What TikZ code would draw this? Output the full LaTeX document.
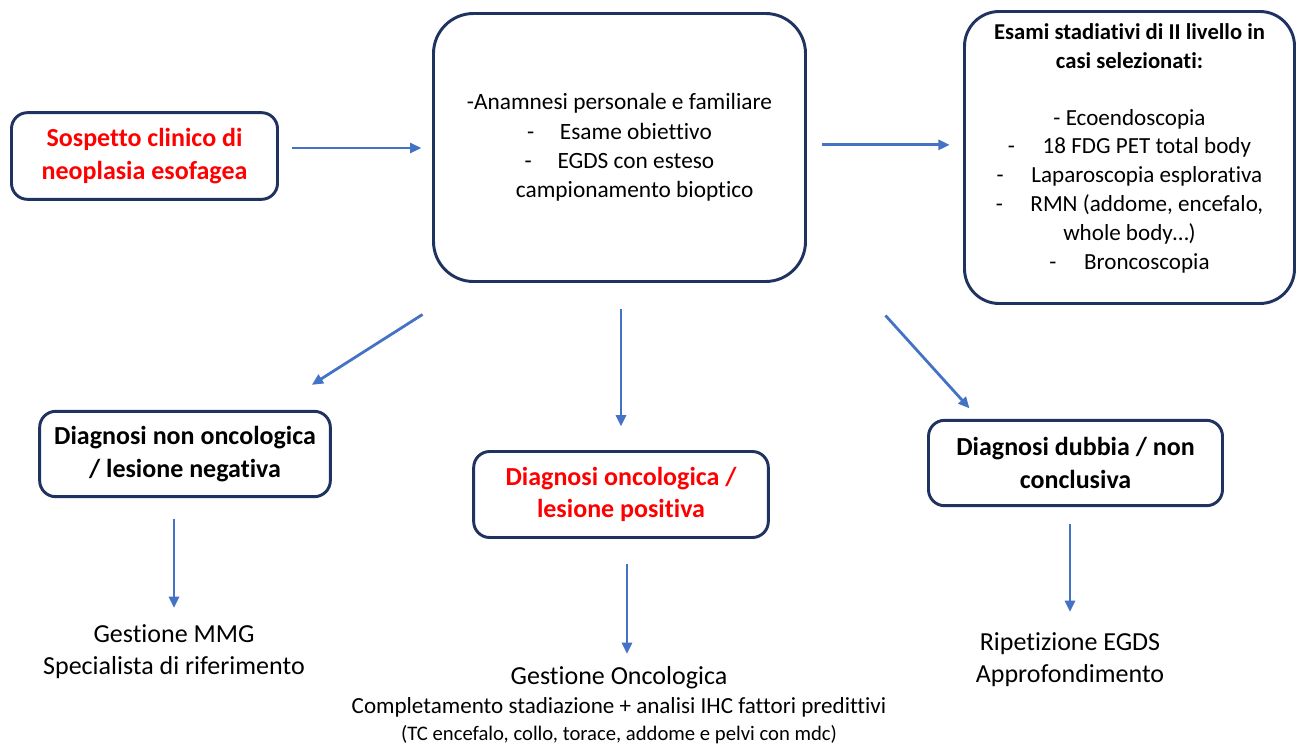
\documentclass[tikz,border=0pt]{standalone}
\usepackage{fontspec}
\setmainfont{Carlito}[RawFeature={-liga;-clig;-calt;-dlig}]
\usetikzlibrary{positioning,arrows.meta}
\definecolor{boxnavy}{RGB}{31,50,96}
\definecolor{arrowblue}{RGB}{68,114,196}
\definecolor{alertred}{RGB}{255,0,0}
\tikzstyle{element} = [rectangle, rounded corners=12pt, draw=boxnavy, line width=2.2pt, align=center, text centered, fill=white, font=\bfseries\fontsize{19.5}{24.5}\selectfont]
\tikzstyle{arrow} = [line width=2.1pt, draw=arrowblue, -{Triangle[length=8.5pt,width=7.5pt]}]
\tikzstyle{outcome} = [align=center, inner sep=0pt, font=\fontsize{19.5}{24}\selectfont]

\begin{document}
\begin{tikzpicture}[x=0.75pt,y=-0.75pt]
        \useasboundingbox (0,0) rectangle (1298,747);
        % Top row ------------------------------------------------------------------------------------
        \node[element, minimum width=199.5pt, minimum height=65pt, text=alertred](sospetto) at (144.5,156){Sospetto clinico di\\neoplasia esofagea};
        \node[element, minimum width=279pt, minimum height=201pt, rounded corners=30pt, font=\fontsize{17.5}{22}\selectfont](workup) at (619.5,147.5){-Anamnesi personale e familiare\\-\hspace{1.1em}Esame obiettivo\\-\hspace{1.1em}EGDS con esteso\\\hspace{1.3em}campionamento bioptico};
        \node[element, minimum width=247.5pt, minimum height=219pt, rounded corners=26pt, font=\fontsize{17.3}{21.6}\selectfont](stadiativi) at (1129.5,157.5){%
            \textbf{\fontsize{17}{21}\selectfont Esami stadiativi di II livello in}\\
            \textbf{\fontsize{17}{21}\selectfont casi selezionati:}\\[21pt]
            - Ecoendoscopia\\
            -\hspace{1.2em}18 FDG PET total body\\
            -\hspace{1.2em}Laparoscopia esplorativa\\
            -\hspace{1.2em}RMN (addome, encefalo,\\
            whole body…)\\
            -\hspace{1.2em}Broncoscopia\\[-5pt]\mbox{}};
        % Diagnosis row -----------------------------------------------------------------------------
        \node[element, minimum width=218pt, minimum height=64pt](negativa) at (185,454){Diagnosi non oncologica\\/ lesione negativa};
        \node[element, minimum width=221pt, minimum height=64.5pt, text=alertred](positiva) at (621,494.5){Diagnosi oncologica /\\lesione positiva};
        \node[element, minimum width=220.5pt, minimum height=64pt](dubbia) at (1075.5,463){Diagnosi dubbia / non\\conclusiva};
        % Outcomes -----------------------------------------------------------------------------------
        \node[outcome, anchor=north](mmg) at (174,624){Gestione MMG\\Specialista di riferimento};
        \node[outcome, anchor=north](oncologica) at (619,666){Gestione Oncologica\\[-2pt]
            {\fontsize{17.3}{20}\selectfont Completamento stadiazione + analisi IHC fattori predittivi}\\[-4pt]
            {\fontsize{15.5}{18}\selectfont (TC encefalo, collo, torace, addome e pelvi con mdc)}};
        \node[outcome, anchor=north](ripetizione) at (1070,632){Ripetizione EGDS\\Approfondimento};
        % Arrows -------------------------------------------------------------------------------------
        \draw[arrow, shorten <=10pt, shorten >=8pt] ([yshift=6pt]sospetto.east) -- ([yshift=6pt]sospetto.east -| workup.west);
        \draw[arrow, shorten <=11pt, shorten >=10pt] ([yshift=2pt]workup.east) -- ([yshift=2pt]workup.east -| stadiativi.west);
        \draw[arrow] ([shift={(-9.5,31.5)}]workup.south west) -- ([shift={(-20,-25)}]negativa.north east);
        \draw[arrow] ([shift={(0,26.5)}]workup.south -| positiva.north) -- ([shift={(0,-23.5)}]positiva.north);
        \draw[arrow] ([shift={(78.5,32.5)}]workup.south east) -- ([shift={(42.5,-10.5)}]dubbia.north west);
        \draw[arrow, shorten <=16pt, shorten >=12pt] (negativa.south -| mmg.north) -- (mmg.north);
        \draw[arrow, shorten <=19pt, shorten >=9pt] ([xshift=4.5pt]positiva.south) -- ([xshift=4.5pt]positiva.south |- oncologica.north);
        \draw[arrow, shorten <=13pt, shorten >=15pt] (dubbia.south -| ripetizione.north) -- (ripetizione.north);
    \end{tikzpicture}
\end{document}
